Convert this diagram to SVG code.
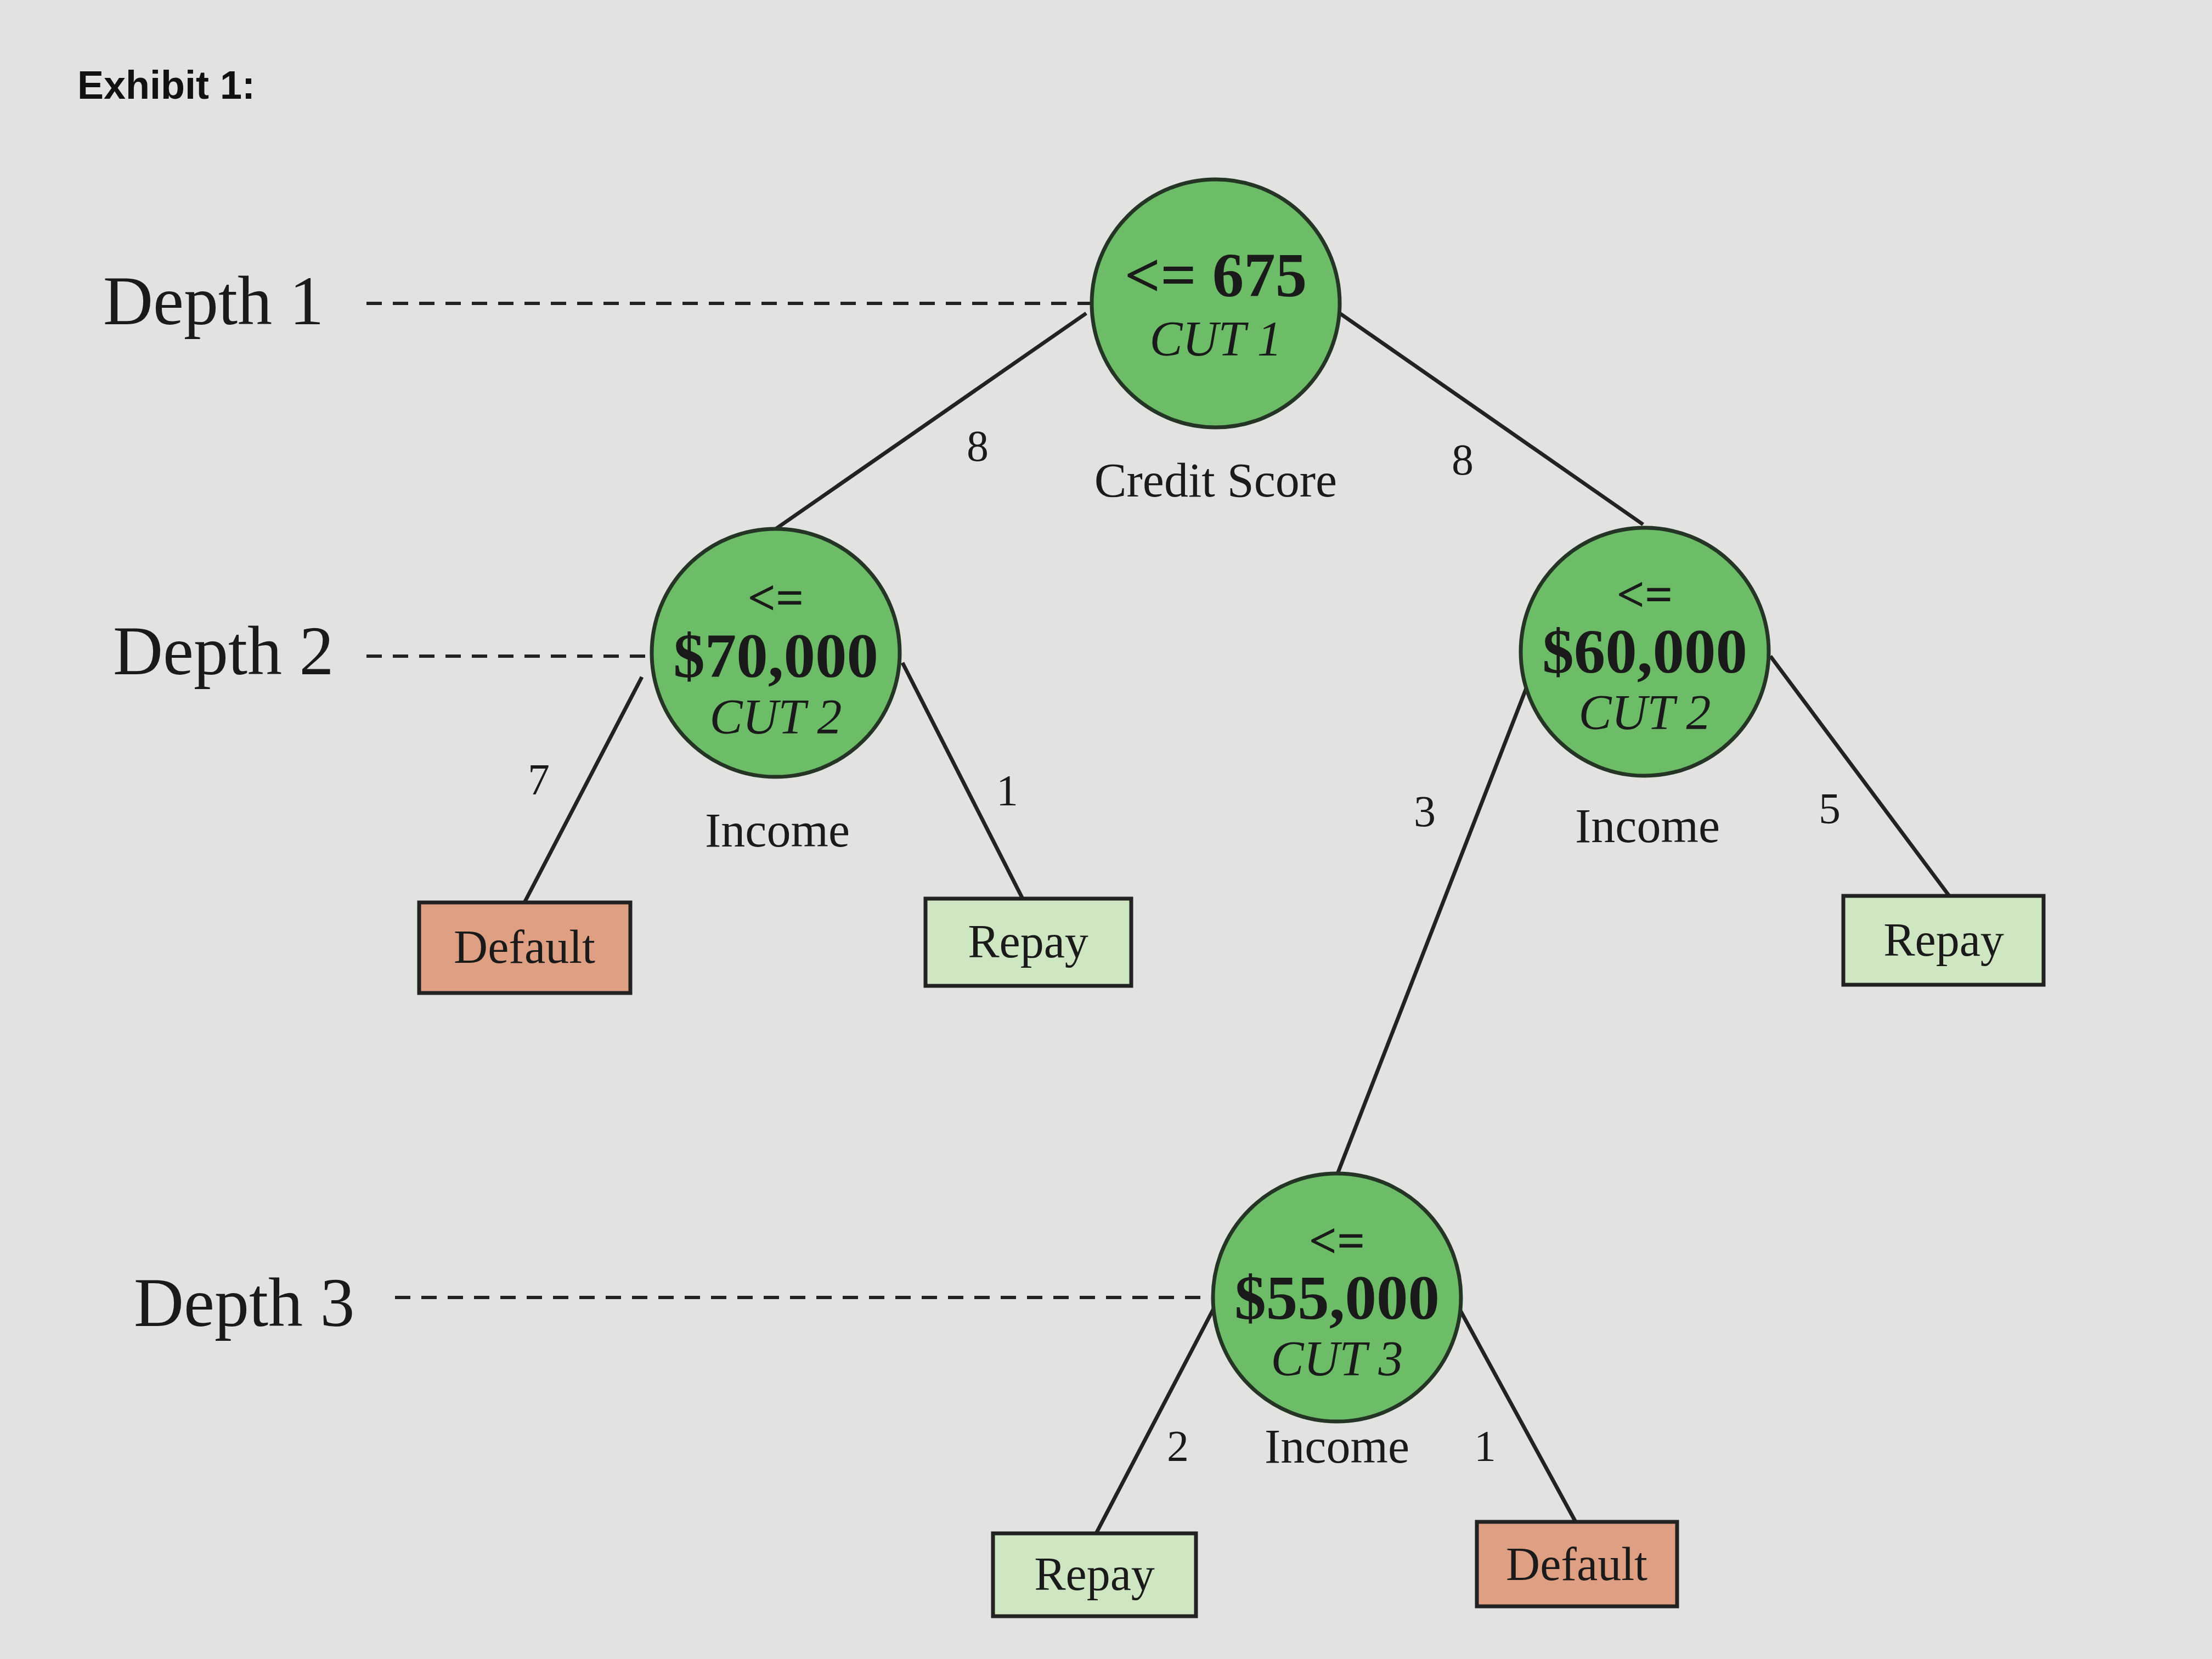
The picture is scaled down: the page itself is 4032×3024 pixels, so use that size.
<svg xmlns="http://www.w3.org/2000/svg" width="4032" height="3024" viewBox="0 0 4032 3024">
<style>
.s{font-family:"Liberation Serif",serif;fill:#1a1a1a;text-anchor:middle}
.dep{font-family:"Liberation Serif",serif;font-size:126px;fill:#1a1a1a}
.b{font-weight:bold;font-size:115px}
.le{font-weight:bold;font-size:90px}
.c{font-style:italic;font-size:90px}
.lab{font-size:88px}
.n{font-size:80px}
.bx{font-size:86px}
.dash{stroke:#222;stroke-width:6;stroke-dasharray:28 20;fill:none}
.ln{stroke:#222;stroke-width:7;fill:none}
.cir{fill:#6dbd68;stroke:#253525;stroke-width:7}
.def{fill:#df9f82;stroke:#222;stroke-width:7}
.rep{fill:#cfe6c2;stroke:#222;stroke-width:7}
</style>
<rect width="4032" height="3024" fill="#e2e2e0"/>
<text x="141" y="180" font-family="Liberation Sans,sans-serif" font-weight="bold" font-size="72" fill="#111">Exhibit 1:</text>
<g id="depths">
<text class="dep" x="188" y="591">Depth 1</text>
<text class="dep" x="206" y="1229">Depth 2</text>
<text class="dep" x="244" y="2417">Depth 3</text>
<line class="dash" x1="668" y1="553" x2="1990" y2="553"/>
<line class="dash" x1="668" y1="1196" x2="1190" y2="1196"/>
<line class="dash" x1="720" y1="2365" x2="2215" y2="2365"/>
</g>
<g id="connectors">
<line class="ln" x1="1980" y1="571" x2="1414" y2="964"/>
<line class="ln" x1="2442" y1="571" x2="2995" y2="956"/>
<line class="ln" x1="1170" y1="1234" x2="956" y2="1645"/>
<line class="ln" x1="1645" y1="1208" x2="1864" y2="1638"/>
<line class="ln" x1="2790" y1="1234" x2="2437" y2="2142"/>
<line class="ln" x1="3227" y1="1196" x2="3553" y2="1633"/>
<line class="ln" x1="2216" y1="2378" x2="1998" y2="2795"/>
<line class="ln" x1="2656" y1="2378" x2="2872" y2="2774"/>
<text class="s n" x="1782" y="840">8</text>
<text class="s n" x="2666" y="865">8</text>
<text class="s n" x="982" y="1448">7</text>
<text class="s n" x="1836" y="1468">1</text>
<text class="s n" x="2597" y="1506">3</text>
<text class="s n" x="3335" y="1501">5</text>
<text class="s n" x="2147" y="2663">2</text>
<text class="s n" x="2707" y="2663">1</text>
</g>
<g id="root">
<circle class="cir" cx="2216" cy="553" r="226"/>
<text class="s b" x="2216" y="540">&lt;= 675</text>
<text class="s c" x="2216" y="648">CUT 1</text>
<text class="s lab" x="2216" y="905">Credit Score</text>
</g>
<g id="n70">
<circle class="cir" cx="1414" cy="1190" r="226"/>
<text class="s le" x="1414" y="1120">&lt;=</text>
<text class="s b" x="1414" y="1234">$70,000</text>
<text class="s c" x="1414" y="1337">CUT 2</text>
<text class="s lab" x="1417" y="1543">Income</text>
</g>
<g id="n60">
<circle class="cir" cx="2998" cy="1188" r="226"/>
<text class="s le" x="2998" y="1114">&lt;=</text>
<text class="s b" x="2998" y="1226">$60,000</text>
<text class="s c" x="2998" y="1329">CUT 2</text>
<text class="s lab" x="3003" y="1535">Income</text>
</g>
<g id="n55">
<circle class="cir" cx="2437" cy="2365" r="226"/>
<text class="s le" x="2437" y="2292">&lt;=</text>
<text class="s b" x="2437" y="2404">$55,000</text>
<text class="s c" x="2437" y="2507">CUT 3</text>
<text class="s lab" x="2437" y="2666">Income</text>
</g>
<g id="leaf1"><rect class="def" x="764" y="1645" width="385" height="165"/><text class="s bx" x="956" y="1755">Default</text></g>
<g id="leaf2"><rect class="rep" x="1687" y="1638" width="375" height="159"/><text class="s bx" x="1874" y="1745">Repay</text></g>
<g id="leaf3"><rect class="rep" x="3360" y="1633" width="365" height="162"/><text class="s bx" x="3543" y="1742">Repay</text></g>
<g id="leaf4"><rect class="rep" x="1810" y="2795" width="370" height="151"/><text class="s bx" x="1995" y="2898">Repay</text></g>
<g id="leaf5"><rect class="def" x="2692" y="2774" width="365" height="154"/><text class="s bx" x="2874" y="2880">Default</text></g>
</svg>
